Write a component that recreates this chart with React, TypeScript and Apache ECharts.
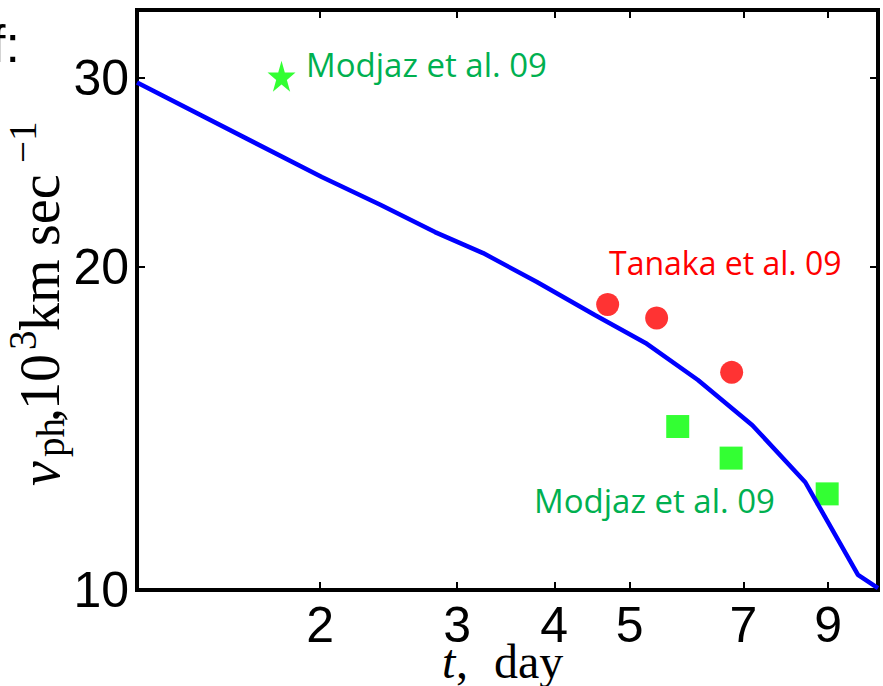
import React, { useEffect, useRef } from 'react';
import * as echarts from 'echarts';

// Model photospheric velocity curve (t in days, v in 10^3 km/s)
const modelT = [1.163, 2.01, 2.39, 2.81, 3.24, 3.8, 4.51, 5.24, 6.12, 7.19, 8.41, 9.83, 10.43];
const modelV = [29.7, 24.25, 22.85, 21.55, 20.6, 19.36, 18.04, 16.99, 15.69, 14.24, 12.6, 10.33, 10.04];
// Tanaka et al. 09 (red circles)
const tanakaT = [4.685, 5.416, 6.763];
const tanakaV = [18.45, 17.92, 15.95];
// Modjaz et al. 09 (green squares)
const modjazT = [5.765, 6.752, 8.973];
const modjazV = [14.2, 13.27, 12.29];
// Modjaz et al. 09 early point (green star)
const modjazEarlyT = [1.784];
const modjazEarlyV = [30.1];
// Axis ticks
const xTicks = [2, 3, 4, 5, 7, 9];
const yTicks = [10, 20, 30];

const STAR = 'path://M50,0 L61.2,34.5 L97.6,34.5 L68.2,55.9 L79.4,90.5 L50,69.1 L20.6,90.5 L31.8,55.9 L2.4,34.5 L38.8,34.5 Z';

export default function App() {
  const ref = useRef<HTMLDivElement>(null);

  useEffect(() => {
    document.body.style.margin = '0';
    const chart = echarts.init(ref.current as HTMLDivElement, null, { renderer: 'svg' });
    const serif = '"Liberation Serif", "Times New Roman", serif';
    const sans = '"Liberation Sans", Arial, sans-serif';
    const annot = '"Open Sans", "Noto Sans", sans-serif';
    const pairs = (xs: number[], ys: number[]) => xs.map((x, i) => [x, ys[i]]);
    const tick = (vals: number[]) => ({
      show: true,
      inside: true,
      length: 8,
      customValues: vals,
      lineStyle: { color: '#000', width: 2 },
    });
    const yText = (text: string, x: number, y: number, size: number, italic = false) => ({
      type: 'text',
      x,
      y,
      rotation: Math.PI / 2,
      silent: true,
      style: {
        text,
        fontFamily: serif,
        fontSize: size,
        lineHeight: Math.round(size * 0.7),
        fontStyle: italic ? 'italic' : 'normal',
        fill: '#000',
        align: 'left',
        verticalAlign: 'middle',
      },
    });
    const hText = (
      text: string,
      x: number,
      y: number,
      size: number,
      family: string,
      color: string,
      italic = false,
      align = 'left',
      lineHeight?: number
    ) => ({
      type: 'text',
      x,
      y,
      silent: true,
      style: {
        text,
        fontFamily: family,
        fontSize: size,
        lineHeight: lineHeight ?? size,
        fontStyle: italic ? 'italic' : 'normal',
        fill: color,
        align,
        verticalAlign: 'middle',
      },
    });

    const baseX = {
      type: 'log',
      logBase: 10,
      min: 1.163,
      max: 10.43,
      axisLine: { show: false },
      splitLine: { show: false },
      minorTick: { show: false },
    };
    const baseY = {
      type: 'log',
      logBase: 10,
      min: 10,
      max: 34.7,
      axisLine: { show: false },
      splitLine: { show: false },
      minorTick: { show: false },
    };

    chart.setOption({
      animation: false,
      backgroundColor: '#fff',
      grid: {
        left: 137,
        right: 5,
        top: 10,
        bottom: 96,
        show: true,
        borderColor: '#000',
        borderWidth: 4,
        backgroundColor: 'transparent',
      },
      xAxis: [
        {
          ...baseX,
          position: 'bottom',
          axisTick: tick(xTicks),
          axisLabel: {
            customValues: xTicks,
            fontFamily: sans,
            fontSize: 50,
            lineHeight: 38,
            color: '#000',
            margin: 16,
            formatter: (v: number) => String(Math.round(v)),
          },
        },
        {
          ...baseX,
          position: 'top',
          axisTick: tick(xTicks),
          axisLabel: { show: false },
        },
      ],
      yAxis: [
        {
          ...baseY,
          position: 'left',
          axisTick: tick(yTicks),
          axisLabel: {
            customValues: yTicks,
            fontFamily: sans,
            fontSize: 50,
            lineHeight: 40,
            color: '#000',
            margin: 8,
            formatter: (v: number) => String(Math.round(v)),
          },
        },
        {
          ...baseY,
          position: 'right',
          axisTick: tick(yTicks),
          axisLabel: { show: false },
        },
      ],
      series: [
        {
          type: 'scatter',
          name: 'Tanaka et al. 09',
          data: pairs(tanakaT, tanakaV),
          symbol: 'circle',
          symbolSize: 23,
          itemStyle: { color: '#ff0000' },
          z: 3,
        },
        {
          type: 'scatter',
          name: 'Modjaz et al. 09',
          data: pairs(modjazT, modjazV),
          symbol: 'rect',
          symbolSize: 23,
          itemStyle: { color: '#00ff00' },
          z: 3,
        },
        {
          type: 'scatter',
          name: 'Modjaz et al. 09 (early)',
          data: pairs(modjazEarlyT, modjazEarlyV),
          symbol: STAR,
          symbolSize: [28, 31],
          itemStyle: { color: '#00ff00' },
          z: 3,
        },
        {
          type: 'line',
          name: 'model',
          data: pairs(modelT, modelV),
          showSymbol: false,
          symbol: 'none',
          lineStyle: { color: '#0000ff', width: 4.5 },
          z: 4,
        },
      ],
      graphic: [
        // annotations
        hText('Modjaz et al. 09', 306, 64, 33, annot, '#00b050'),
        hText('Tanaka et al. 09', 609, 262, 32, annot, '#ff0000'),
        hText('Modjaz et al. 09', 534, 500, 33, annot, '#00b050'),
        // panel label (cut off at the page edge, as in the source figure)
        hText('f:', 20, 44, 52, sans, '#000', false, 'right', 40),
        // x axis title: t, day
        hText('t', 442, 661, 48, serif, '#000', true, 'left', 28),
        hText(',', 456, 661, 48, serif, '#000', false, 'left', 28),
        hText('day', 494, 661, 48, serif, '#000', false, 'left', 28),
        // y axis title: v_ph, 10^3 km sec^-1
        yText('v', 40, 486, 56, true),
        yText('ph', 50, 457, 39),
        yText(',', 40, 422, 56),
        yText('10', 40, 410, 56),
        yText('3', 22, 350, 39),
        yText('km', 40, 331, 56),
        yText('sec', 40, 246, 56),
        yText('\u22121', 22, 163, 39),
      ],
    });

    return () => {
      chart.dispose();
    };
  }, []);

  return <div ref={ref} style={{ width: 883, height: 686 }} />;
}
